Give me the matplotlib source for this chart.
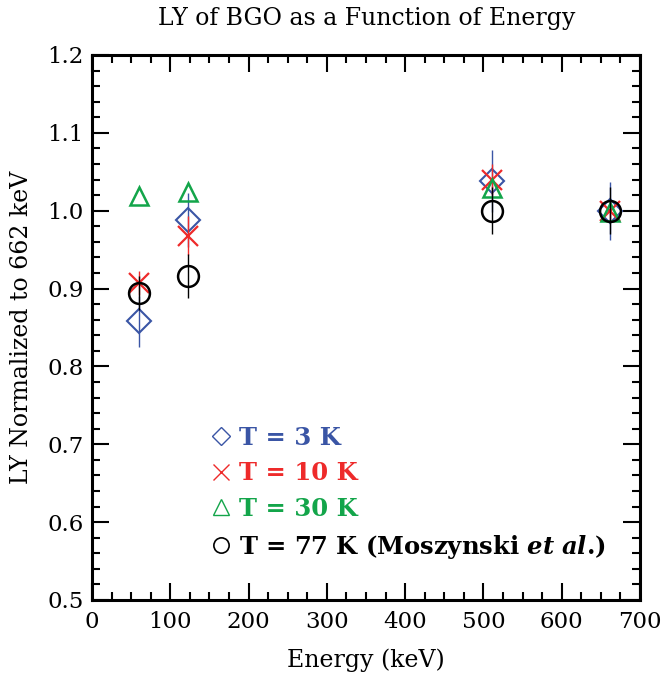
import matplotlib
matplotlib.use("Agg")
import matplotlib.pyplot as plt
from matplotlib.lines import Line2D
from matplotlib.ticker import MultipleLocator, FormatStrFormatter

plt.rcParams['font.family'] = ['DejaVu Serif']
plt.rcParams['mathtext.fontset'] = 'dejavuserif'

# Energies (keV) and normalized light yield
energy = [59.5, 122, 511, 662]

ly_3k = [0.858, 0.988, 1.038, 1.000]
err_3k = [0.033, 0.035, 0.040, 0.037]

ly_10k = [0.907, 0.968, 1.040, 1.000]
err_10k = [0.015, 0.025, 0.020, 0.012]

ly_30k = [1.019, 1.024, 1.029, 0.998]
err_30k = [0.0, 0.0, 0.0, 0.0]

ly_77k = [0.894, 0.916, 1.000, 1.000]
err_77k = [0.022, 0.028, 0.030, 0.030]

labels = ['T = 3 K', 'T = 10 K', 'T = 30 K',
          r'T = 77 K (Moszynski $\mathbfit{et\ al}$.)']

blue = '#3a55a5'
red = '#ee2a2a'
green = '#13a54a'
black = '#000000'

fig = plt.figure(figsize=(6.63, 6.74), dpi=100)
ax = fig.add_axes([0.1388, 0.1098, 0.8265, 0.8086])

ax.errorbar(energy, ly_3k, yerr=err_3k, fmt='D', ms=12, mfc='none', mec=blue,
            mew=1.5, ecolor=blue, elinewidth=1, capsize=0, zorder=3)
ax.errorbar(energy, ly_10k, yerr=err_10k, fmt='x', ms=14, mec=red,
            mew=1.6, ecolor=red, elinewidth=1, capsize=0, zorder=4)
ax.errorbar(energy, ly_30k, yerr=err_30k, fmt='^', ms=13, mfc='none', mec=green,
            mew=1.8, ecolor=green, elinewidth=1, capsize=0, zorder=5)
ax.errorbar(energy, ly_77k, yerr=err_77k, fmt='o', ms=15, mfc='none', mec=black,
            mew=1.8, ecolor=black, elinewidth=1, capsize=0, zorder=6)

ax.set_xlim(0, 700)
ax.set_ylim(0.5, 1.2)
ax.xaxis.set_major_locator(MultipleLocator(100))
ax.xaxis.set_minor_locator(MultipleLocator(25))
ax.yaxis.set_major_locator(MultipleLocator(0.1))
ax.yaxis.set_minor_locator(MultipleLocator(0.02))
ax.yaxis.set_major_formatter(FormatStrFormatter('%.1f'))

ax.tick_params(which='both', direction='in', top=True, right=True, width=1.5,
               labelsize=16.5)
ax.tick_params(which='major', length=12)
ax.tick_params(which='minor', length=6)
ax.tick_params(axis='x', which='major', pad=8)
ax.tick_params(axis='y', which='major', pad=6)
for s in ax.spines.values():
    s.set_linewidth(2.2)

ax.set_xlabel('Energy (keV)', fontsize=17, labelpad=11)
ax.set_ylabel('LY Normalized to 662 keV', fontsize=17, labelpad=10)
fig.text(0.553, 0.973, 'LY of BGO as a Function of Energy', fontsize=17,
         ha='center', va='center')

handles = [
    Line2D([], [], ls='none', marker='D', ms=9, mfc='none', mec=blue, mew=1.0),
    Line2D([], [], ls='none', marker='x', ms=12, mec=red, mew=1.0),
    Line2D([], [], ls='none', marker='^', ms=12, mfc='none', mec=green, mew=1.0),
    Line2D([], [], ls='none', marker='o', ms=11, mfc='none', mec=black, mew=1.2),
]
ax.legend(handles, labels, loc='upper left', bbox_to_anchor=(0.22, 0.32),
          frameon=False, handlelength=0.7, handletextpad=0.38,
          labelspacing=0.48, prop={'size': 17.5, 'weight': 'bold'},
          labelcolor=[blue, red, green, black], borderaxespad=0, borderpad=0)

fig.savefig('out.png', dpi=100)
